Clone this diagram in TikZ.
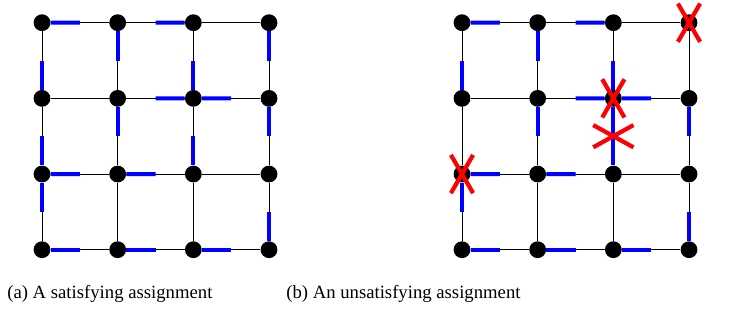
\documentclass[tikz,border=0pt]{standalone}
\usepackage{fontspec}
\setmainfont{Liberation Serif}
\usepackage{tikz}
\usetikzlibrary{calc,shapes.misc}

\begin{document}
\begin{tikzpicture}[
    x=0.025cm, y=0.025cm,
    dot/.style={circle, fill=black, inner sep=0pt, minimum size=0.42cm},
    edge/.style={black, line width=0.7pt},
    half/.style={blue, line width=2.8pt},
    bad/.style={cross out, draw=red, line width=3pt, inner sep=0pt, minimum width=0.45cm, minimum height=0.85cm},
    badedge/.style={bad, minimum width=0.9cm, minimum height=0.45cm},
    caption/.style={anchor=base west, inner sep=0pt, font=\fontsize{13.3}{16}\selectfont}
]
\useasboundingbox (0,0) rectangle (741,327);
% vertices of both grids
\foreach \i in {0,...,3} {
  \foreach \j in {0,...,3} {
    \node[dot] (a\i\j) at ({42+75.67*\i}, {304.3-75.67*\j}) {};
    \node[dot] (b\i\j) at ({462+75.67*\i}, {304.3-75.67*\j}) {};
  }
}
% grid edges
\foreach \g in {a,b} {
  \foreach \i/\k in {0/1,1/2,2/3} {
    \foreach \j in {0,...,3} {
      \draw[edge] (\g\i\j) -- (\g\k\j);
      \draw[edge] (\g\j\i) -- (\g\j\k);
    }
  }
}
% half edges common to (a) and (b)
\foreach \g in {a,b} {
  \foreach \p/\q in {00/10, 20/10, 01/00, 10/11, 21/20, 21/11, 21/31, 11/12, 22/21,
                     31/32, 02/12, 12/22, 02/03, 33/32, 03/13, 13/23, 23/33} {
    \draw[half] (\g\p) -- ($(\g\p)!0.5!(\g\q)$);
  }
}
% only in (a)
\draw[half] (a30) -- ($(a30)!0.5!(a31)$);
\draw[half] (a02) -- ($(a02)!0.5!(a01)$);
% only in (b)
\draw[half] (b21) -- ($(b21)!0.5!(b22)$);
% violations
\node[bad] (xb30) at (b30) {};
\node[bad] (xb21) at (b21) {};
\node[bad] (xb02) at (b02) {};
\node[badedge] (xb2122) at ($(b21)!0.5!(b22)$) {};
% captions
\node[caption] (capa) at (7,28) {(a) A satisfying assignment};
\node[caption] (capb) at (286,28) {(b) An unsatisfying assignment};
\end{tikzpicture}
\end{document}
